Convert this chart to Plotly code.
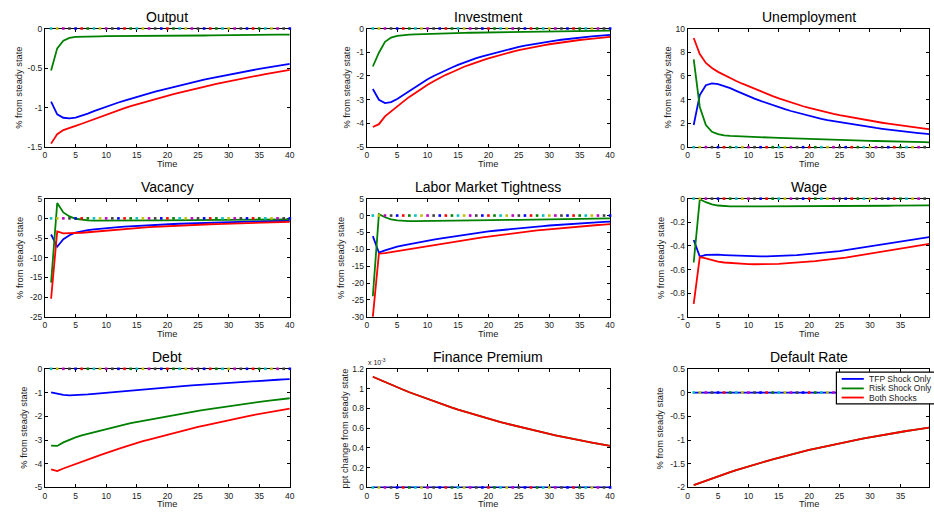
import plotly.graph_objects as go

periods = list(range(1, 41))

# ---------------- Output ----------------
tfp_output = [-0.925, -1.085, -1.128, -1.135, -1.125, -1.103, -1.076, -1.045, -1.015, -0.987,
              -0.960, -0.935, -0.911, -0.887, -0.864, -0.842, -0.820, -0.799, -0.778, -0.758,
              -0.738, -0.719, -0.700, -0.682, -0.664, -0.647, -0.630, -0.614, -0.598, -0.582,
              -0.567, -0.552, -0.538, -0.524, -0.510, -0.497, -0.484, -0.472, -0.459, -0.447]
risk_output = [-0.53, -0.25, -0.155, -0.118, -0.105, -0.101, -0.099, -0.098, -0.098, -0.097,
               -0.097, -0.096, -0.096, -0.095, -0.095, -0.094, -0.094, -0.093, -0.093, -0.092,
               -0.091, -0.091, -0.090, -0.089, -0.089, -0.088, -0.087, -0.087, -0.086, -0.085,
               -0.084, -0.084, -0.083, -0.082, -0.081, -0.080, -0.079, -0.078, -0.077, -0.076]
both_output = [-1.455, -1.335, -1.283, -1.253, -1.230, -1.204, -1.175, -1.143, -1.113, -1.084,
               -1.057, -1.031, -1.007, -0.982, -0.959, -0.936, -0.914, -0.892, -0.871, -0.850,
               -0.829, -0.810, -0.790, -0.771, -0.753, -0.735, -0.717, -0.701, -0.684, -0.667,
               -0.651, -0.636, -0.621, -0.606, -0.591, -0.577, -0.563, -0.550, -0.536, -0.523]

# ---------------- Investment ----------------
tfp_invest = [-2.55, -3.00, -3.14, -3.10, -2.97, -2.80, -2.62, -2.45, -2.29, -2.14,
              -2.00, -1.87, -1.75, -1.64, -1.53, -1.43, -1.34, -1.25, -1.17, -1.10,
              -1.025, -0.955, -0.890, -0.830, -0.774, -0.721, -0.672, -0.626, -0.584, -0.544,
              -0.507, -0.473, -0.440, -0.410, -0.383, -0.357, -0.332, -0.310, -0.289, -0.269]
risk_invest = [-1.60, -1.02, -0.56, -0.38, -0.31, -0.278, -0.260, -0.248, -0.237, -0.227,
               -0.219, -0.211, -0.204, -0.197, -0.190, -0.184, -0.178, -0.173, -0.168, -0.163,
               -0.158, -0.153, -0.148, -0.143, -0.139, -0.134, -0.130, -0.126, -0.122, -0.118,
               -0.114, -0.111, -0.107, -0.104, -0.100, -0.097, -0.094, -0.091, -0.088, -0.085]
both_invest = [-4.15, -4.03, -3.70, -3.48, -3.28, -3.08, -2.88, -2.70, -2.53, -2.37,
               -2.22, -2.08, -1.95, -1.84, -1.72, -1.61, -1.52, -1.42, -1.34, -1.26,
               -1.18, -1.11, -1.04, -0.973, -0.913, -0.855, -0.802, -0.752, -0.706, -0.662,
               -0.621, -0.584, -0.547, -0.514, -0.483, -0.454, -0.426, -0.401, -0.377, -0.354]

# ---------------- Unemployment ----------------
tfp_unemp = [1.87, 4.40, 5.22, 5.37, 5.32, 5.17, 4.97, 4.75, 4.52, 4.29,
             4.09, 3.90, 3.71, 3.53, 3.36, 3.20, 3.05, 2.91, 2.77, 2.64,
             2.51, 2.39, 2.28, 2.19, 2.10, 2.01, 1.92, 1.84, 1.76, 1.69,
             1.62, 1.55, 1.48, 1.42, 1.36, 1.30, 1.24, 1.19, 1.14, 1.09]
risk_unemp = [7.40, 3.39, 1.87, 1.30, 1.10, 0.99, 0.95, 0.92, 0.90, 0.88,
              0.86, 0.84, 0.82, 0.80, 0.78, 0.76, 0.74, 0.72, 0.70, 0.68,
              0.67, 0.65, 0.63, 0.62, 0.60, 0.59, 0.57, 0.56, 0.54, 0.53,
              0.52, 0.50, 0.49, 0.48, 0.47, 0.45, 0.44, 0.43, 0.42, 0.41]
both_unemp = [9.20, 7.85, 7.10, 6.68, 6.35, 6.08, 5.83, 5.58, 5.35, 5.13,
              4.91, 4.70, 4.50, 4.31, 4.12, 3.94, 3.77, 3.61, 3.45, 3.31,
              3.17, 3.04, 2.92, 2.81, 2.70, 2.60, 2.50, 2.41, 2.32, 2.23,
              2.14, 2.06, 1.98, 1.90, 1.83, 1.76, 1.69, 1.62, 1.56, 1.50]

# ---------------- Vacancy ----------------
tfp_vac = [-4.1, -7.2, -5.3, -4.3, -3.6, -3.25, -3.0, -2.8, -2.62, -2.46,
           -2.32, -2.2, -2.09, -1.99, -1.9, -1.81, -1.73, -1.65, -1.57, -1.5,
           -1.43, -1.37, -1.31, -1.25, -1.19, -1.14, -1.09, -1.04, -0.99, -0.95,
           -0.91, -0.87, -0.83, -0.79, -0.76, -0.72, -0.69, -0.66, -0.63, -0.60]
risk_vac = [-16.3, 3.9, 1.5, 0.5, -0.1, -0.4, -0.52, -0.57, -0.58, -0.58,
            -0.57, -0.56, -0.55, -0.54, -0.53, -0.52, -0.51, -0.50, -0.49, -0.48,
            -0.47, -0.46, -0.45, -0.44, -0.43, -0.42, -0.41, -0.40, -0.39, -0.38,
            -0.37, -0.36, -0.35, -0.34, -0.33, -0.32, -0.31, -0.30, -0.29, -0.28]
both_vac = [-20.4, -3.3, -3.8, -3.8, -3.7, -3.65, -3.52, -3.37, -3.2, -3.04,
            -2.89, -2.76, -2.64, -2.53, -2.43, -2.33, -2.24, -2.15, -2.06, -1.98,
            -1.9, -1.83, -1.76, -1.69, -1.62, -1.56, -1.5, -1.44, -1.38, -1.33,
            -1.28, -1.23, -1.18, -1.13, -1.09, -1.04, -1.0, -0.96, -0.92, -0.88]

# ---------------- Labor Market Tightness ----------------
tfp_tight = [-6.1, -11.0, -10.3, -9.7, -9.2, -8.8, -8.42, -8.07, -7.74, -7.42,
             -7.11, -6.81, -6.52, -6.24, -5.97, -5.7, -5.45, -5.2, -4.95, -4.7,
             -4.5, -4.3, -4.11, -3.93, -3.75, -3.58, -3.41, -3.25, -3.1, -2.95,
             -2.81, -2.67, -2.54, -2.42, -2.3, -2.19, -2.09, -1.99, -1.89, -1.8]
risk_tight = [-23.9, 0.4, -0.5, -1.1, -1.45, -1.6, -1.65, -1.65, -1.64, -1.62,
              -1.6, -1.58, -1.56, -1.54, -1.52, -1.5, -1.47, -1.45, -1.42, -1.4,
              -1.37, -1.35, -1.32, -1.29, -1.26, -1.24, -1.21, -1.18, -1.15, -1.12,
              -1.09, -1.06, -1.03, -1.0, -0.97, -0.94, -0.91, -0.88, -0.85, -0.82]
both_tight = [-30.0, -11.3, -11.1, -10.8, -10.5, -10.25, -9.95, -9.65, -9.35, -9.05,
              -8.75, -8.45, -8.16, -7.88, -7.55, -7.27, -7.0, -6.74, -6.48, -6.23,
              -5.98, -5.72, -5.48, -5.25, -5.02, -4.8, -4.6, -4.4, -4.22, -4.04,
              -3.86, -3.69, -3.53, -3.37, -3.22, -3.07, -2.93, -2.8, -2.67, -2.55]

# ---------------- Wage ----------------
tfp_wage = [-0.35, -0.49, -0.475, -0.472, -0.474, -0.477, -0.48, -0.483, -0.486, -0.488,
            -0.489, -0.489, -0.489, -0.488, -0.486, -0.483, -0.48, -0.477, -0.473, -0.469,
            -0.464, -0.459, -0.454, -0.448, -0.443, -0.436, -0.428, -0.42, -0.412, -0.404,
            -0.396, -0.388, -0.38, -0.372, -0.364, -0.356, -0.347, -0.339, -0.331, -0.323]
risk_wage = [-0.54, -0.005, -0.03, -0.048, -0.058, -0.063, -0.065, -0.066, -0.066, -0.066,
             -0.066, -0.066, -0.066, -0.066, -0.065, -0.065, -0.065, -0.065, -0.064, -0.064,
             -0.064, -0.063, -0.063, -0.063, -0.062, -0.062, -0.062, -0.061, -0.061, -0.061,
             -0.060, -0.060, -0.060, -0.059, -0.059, -0.059, -0.058, -0.058, -0.058, -0.057]
both_wage = [-0.89, -0.495, -0.505, -0.52, -0.532, -0.54, -0.545, -0.549, -0.552, -0.554,
             -0.555, -0.555, -0.555, -0.554, -0.551, -0.548, -0.545, -0.542, -0.537, -0.533,
             -0.528, -0.522, -0.517, -0.511, -0.505, -0.498, -0.49, -0.481, -0.473, -0.465,
             -0.456, -0.448, -0.44, -0.431, -0.423, -0.415, -0.405, -0.397, -0.389, -0.38]

# ---------------- Debt ----------------
tfp_debt = [-0.99, -1.05, -1.1, -1.12, -1.115, -1.1, -1.08, -1.06, -1.035, -1.01,
            -0.985, -0.96, -0.935, -0.91, -0.886, -0.862, -0.84, -0.819, -0.799, -0.779,
            -0.759, -0.738, -0.718, -0.698, -0.679, -0.66, -0.641, -0.622, -0.604, -0.586,
            -0.569, -0.552, -0.535, -0.519, -0.504, -0.49, -0.475, -0.461, -0.448, -0.435]
risk_debt = [-3.24, -3.25, -3.1, -2.98, -2.89, -2.81, -2.74, -2.67, -2.6, -2.53,
             -2.47, -2.41, -2.35, -2.29, -2.24, -2.19, -2.14, -2.09, -2.04, -1.99,
             -1.94, -1.9, -1.85, -1.81, -1.77, -1.73, -1.69, -1.65, -1.61, -1.57,
             -1.53, -1.5, -1.46, -1.43, -1.4, -1.36, -1.33, -1.3, -1.27, -1.24]
both_debt = [-4.24, -4.31, -4.2, -4.1, -4.0, -3.91, -3.82, -3.73, -3.64, -3.54,
             -3.46, -3.37, -3.29, -3.2, -3.13, -3.05, -2.98, -2.91, -2.84, -2.77,
             -2.7, -2.64, -2.57, -2.51, -2.45, -2.39, -2.33, -2.27, -2.21, -2.16,
             -2.1, -2.05, -2.0, -1.95, -1.9, -1.85, -1.8, -1.76, -1.72, -1.68]

# ---------------- Finance Premium (units of 1e-3) ----------------
tfp_premium = [0.0] * 40
both_premium = [1.12, 1.092, 1.065, 1.039, 1.013, 0.988, 0.963, 0.940, 0.916, 0.894,
                0.871, 0.850, 0.829, 0.808, 0.788, 0.769, 0.750, 0.731, 0.713, 0.695,
                0.678, 0.661, 0.645, 0.629, 0.613, 0.598, 0.583, 0.569, 0.555, 0.541,
                0.528, 0.514, 0.502, 0.489, 0.477, 0.465, 0.454, 0.443, 0.432, 0.421]
risk_premium = list(both_premium)

# ---------------- Default Rate ----------------
tfp_default = [0.0] * 40
both_default = [-1.95, -1.902, -1.854, -1.809, -1.764, -1.72, -1.677, -1.636, -1.595, -1.556,
                -1.517, -1.479, -1.443, -1.407, -1.372, -1.338, -1.305, -1.273, -1.241, -1.21,
                -1.18, -1.151, -1.123, -1.095, -1.068, -1.041, -1.015, -0.99, -0.966, -0.942,
                -0.918, -0.896, -0.873, -0.852, -0.831, -0.81, -0.79, -0.77, -0.751, -0.733]
risk_default = list(both_default)

zero_line = [0.0] * 40

series_names = ["TFP Shock Only", "Risk Shock Only", "Both Shocks"]
series_colors = ["rgb(0,0,255)", "rgb(0,128,0)", "rgb(255,0,0)"]
zero_colors = ["rgb(0,191,191)", "rgb(191,191,0)", "rgb(191,0,191)", "rgb(64,64,64)",
               "rgb(0,0,255)", "rgb(255,0,0)", "rgb(0,128,0)"]

x_ticks = [0, 5, 10, 15, 20, 25, 30, 35, 40]

panels = [
    ("Output", tfp_output, risk_output, both_output, [-1.5, 0], [-1.5, -1, -0.5, 0], "% from steady state"),
    ("Investment", tfp_invest, risk_invest, both_invest, [-5, 0], [-5, -4, -3, -2, -1, 0], "% from steady state"),
    ("Unemployment", tfp_unemp, risk_unemp, both_unemp, [0, 10], [0, 2, 4, 6, 8, 10], "% from steady state"),
    ("Vacancy", tfp_vac, risk_vac, both_vac, [-25, 5], [-25, -20, -15, -10, -5, 0, 5], "% from steady state"),
    ("Labor Market Tightness", tfp_tight, risk_tight, both_tight, [-30, 5], [-30, -25, -20, -15, -10, -5, 0, 5], "% from steady state"),
    ("Wage", tfp_wage, risk_wage, both_wage, [-1, 0], [-1, -0.8, -0.6, -0.4, -0.2, 0], "% from steady state"),
    ("Debt", tfp_debt, risk_debt, both_debt, [-5, 0], [-5, -4, -3, -2, -1, 0], "% from steady state"),
    ("Finance Premium", tfp_premium, risk_premium, both_premium, [0, 1.2], [0, 0.2, 0.4, 0.6, 0.8, 1.0, 1.2], "ppt change from steady state"),
    ("Default Rate", tfp_default, risk_default, both_default, [-2, 0.5], [-2, -1.5, -1, -0.5, 0, 0.5], "% from steady state"),
]

W, H = 934, 516
col_px = [(43.3, 290.0), (367.5, 612.7), (690.8, 935.8)]
row_px = [(24.0, 145.0), (197.5, 318.0), (371.0, 492.0)]
ylabel_x = [[17.0, 347.3, 670.7], [18.3, 341.7, 663.3], [22.7, 346.0, 663.3]]

FONT = "Liberation Sans, Arial, sans-serif"
TXT = "#1a1a1a"

fig = go.Figure()
annotations = []
layout = {}

def fmt(v):
    return f"{v:g}"

for i, (title, tfp, risk, both, yr, yt, ylab) in enumerate(panels):
    r, c = divmod(i, 3)
    n = i + 1
    xname = "x" if n == 1 else f"x{n}"
    yname = "y" if n == 1 else f"y{n}"
    x0p, x1p = col_px[c]
    y0p, y1p = row_px[r]
    dom_x1 = min(x1p, W) / W
    xmax = 40 * (min(x1p, W) - x0p) / (x1p - x0p)
    for vals, name, color in zip((tfp, risk, both), series_names, series_colors):
        fig.add_trace(go.Scatter(x=periods, y=vals, mode="lines", name=name,
                                 line=dict(color=color, width=1.8), showlegend=False,
                                 xaxis=xname, yaxis=yname, hoverinfo="skip"))
    fig.add_trace(go.Scatter(x=periods, y=zero_line, mode="markers",
                             marker=dict(symbol="square", size=2.6,
                                         color=[zero_colors[k % len(zero_colors)] for k in range(40)]),
                             showlegend=False, cliponaxis=False,
                             xaxis=xname, yaxis=yname, hoverinfo="skip"))
    axis_common = dict(showline=True, linecolor="black", linewidth=1, mirror="allticks",
                       ticks="inside", ticklen=3, tickcolor="black", tickwidth=1,
                       showgrid=False, zeroline=False, layer="below traces",
                       tickfont=dict(family=FONT, size=8.5, color=TXT))
    layout["xaxis" if n == 1 else f"xaxis{n}"] = dict(
        domain=[x0p / W, dom_x1], range=[0, xmax], anchor=yname,
        tickvals=x_ticks, ticktext=[fmt(v) for v in x_ticks], **axis_common)
    layout["yaxis" if n == 1 else f"yaxis{n}"] = dict(
        domain=[1 - y1p / H, 1 - y0p / H], range=yr, anchor=xname,
        tickvals=yt, ticktext=[fmt(v) for v in yt], **axis_common)
    xc = (x0p + x1p) / 2
    annotations.append(dict(text=title, x=xc / W, y=1 - (y0p - 12.0) / H, xref="paper", yref="paper",
                            xanchor="center", yanchor="middle", showarrow=False,
                            font=dict(family=FONT, size=14, color="black")))
    annotations.append(dict(text="Time", x=xc / W, y=1 - (y1p + 17.0) / H, xref="paper", yref="paper",
                            xanchor="center", yanchor="middle", showarrow=False,
                            font=dict(family=FONT, size=9.3, color=TXT)))
    annotations.append(dict(text=ylab, x=ylabel_x[r][c] / W, y=1 - ((y0p + y1p) / 2) / H,
                            xref="paper", yref="paper", xanchor="center", yanchor="middle",
                            textangle=-90, showarrow=False,
                            font=dict(family=FONT, size=9.3, color=TXT)))

# exponent label for the Finance Premium axis
annotations.append(dict(text="x 10<sup>-3</sup>", x=367.0 / W, y=1 - 364.0 / H, xref="paper", yref="paper",
                        xanchor="left", yanchor="middle", showarrow=False,
                        font=dict(family=FONT, size=7, color=TXT)))

# legend box (drawn as in the original, inside the Default Rate panel)
shapes = [dict(type="rect", xref="paper", yref="paper", x0=840.7 / W, x1=945 / W,
               y0=1 - 406.7 / H, y1=1 - 374.3 / H, line=dict(color="black", width=1.2),
               fillcolor="white", layer="above")]
leg_rows = [381.3, 391.0, 400.3]
for name, color, yy in zip(series_names, series_colors, leg_rows):
    shapes.append(dict(type="line", xref="paper", yref="paper", x0=846 / W, x1=868.3 / W,
                       y0=1 - yy / H, y1=1 - yy / H, line=dict(color=color, width=1.8), layer="above"))
    annotations.append(dict(text=name, x=871.7 / W, y=1 - yy / H, xref="paper", yref="paper",
                            xanchor="left", yanchor="middle", showarrow=False,
                            font=dict(family=FONT, size=8.5, color=TXT)))

fig.update_layout(width=W, height=H, margin=dict(l=0, r=0, t=0, b=0),
                  paper_bgcolor="white", plot_bgcolor="white", showlegend=False,
                  annotations=annotations, shapes=shapes, **layout)

fig.write_html("out.html")
